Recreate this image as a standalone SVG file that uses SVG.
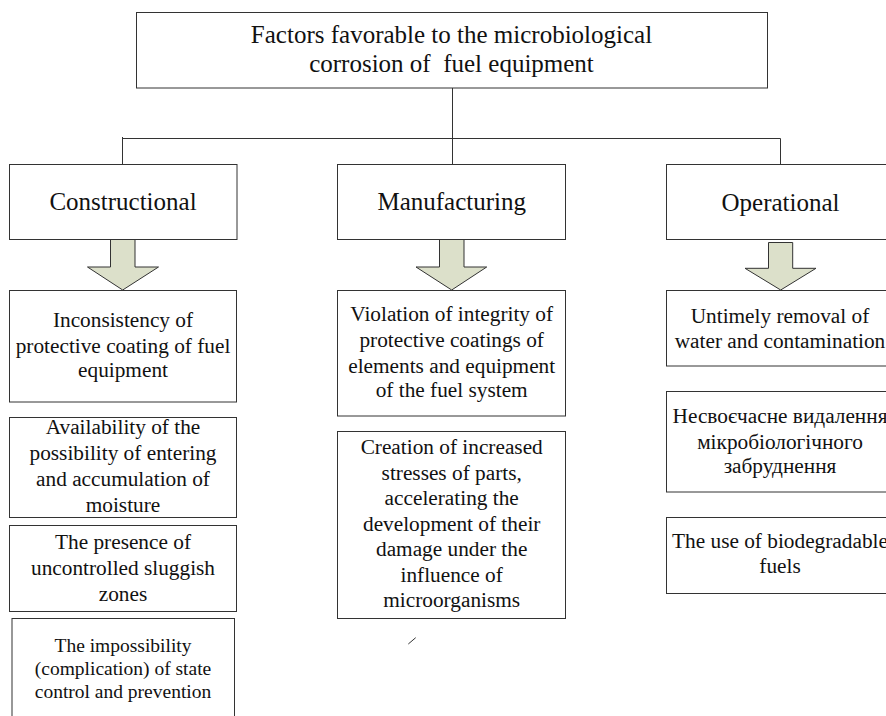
<svg xmlns="http://www.w3.org/2000/svg" width="886" height="716" viewBox="0 0 886 716">
<style>
.box{fill:#fff;stroke:#333;stroke-width:1}
.ln{fill:none;stroke:#333;stroke-width:1}
.arr{fill:#DCE0CA;stroke:#333;stroke-width:1;stroke-linejoin:miter}
text{font-family:'Liberation Serif','DejaVu Serif',serif;fill:#111;text-anchor:middle}
.t25{font-size:25px}
.t21{font-size:21.3px}
.t19{font-size:19.5px}
</style>
<rect width="886" height="716" fill="#fff"/>
<g id="connectors">
<path class="ln" d="M452.5,88 V138.5 M122.5,138.5 H780.5 M122.5,137 V164.5 M452.5,138.5 V164.5 M780.5,138.5 V164.5"/>
<polygon class="arr" points="110.5,239.5 135,239.5 135,267 158.5,267 122.7,290 87.5,267 110.5,267"/>
<polygon class="arr" points="439.5,239.5 464,239.5 464,267 486.7,267 451.7,290 416,267 439.5,267"/>
<polygon class="arr" points="768.5,242.5 792.7,242.5 792.7,268.3 816,268.3 780.7,290 745,268.3 768.5,268.3"/>
<line class="ln" x1="408.3" y1="644" x2="415.7" y2="637.7"/>
</g>
<g id="root">
<rect class="box" x="136.5" y="12.5" width="631" height="75.5"/>
<text class="t25" x="451.5" y="43">Factors favorable to the microbiological</text>
<text class="t25" x="451.5" y="71.5" xml:space="preserve" style="white-space:pre">corrosion of  fuel equipment</text>
</g>
<g id="constructional">
<rect class="box" x="9.5" y="164.5" width="227.5" height="75"/>
<text class="t25" x="123" y="209.5">Constructional</text>
</g>
<g id="manufacturing">
<rect class="box" x="337.5" y="164.5" width="228" height="75"/>
<text class="t25" x="451.7" y="210">Manufacturing</text>
</g>
<g id="operational">
<rect class="box" x="666.5" y="164.5" width="228" height="75"/>
<text class="t25" x="780.5" y="210.5">Operational</text>
</g>
<g id="c1">
<rect class="box" x="9.5" y="290.5" width="227" height="111.5"/>
<text class="t21" x="123" y="327">Inconsistency of</text>
<text class="t21" x="123" y="352.5">protective coating of fuel</text>
<text class="t21" x="123" y="377">equipment</text>
</g>
<g id="c2">
<rect class="box" x="9.5" y="417.5" width="227" height="100"/>
<text class="t21" x="123" y="434">Availability of the</text>
<text class="t21" x="123" y="460">possibility of entering</text>
<text class="t21" x="123" y="486">and accumulation of</text>
<text class="t21" x="123" y="512">moisture</text>
</g>
<g id="c3">
<rect class="box" x="9.5" y="525.5" width="227" height="86"/>
<text class="t21" x="123" y="549">The presence of</text>
<text class="t21" x="123" y="575">uncontrolled sluggish</text>
<text class="t21" x="123" y="601">zones</text>
</g>
<g id="c4">
<rect class="box" x="12" y="618.5" width="222.5" height="110"/>
<text class="t19" x="123" y="652">The impossibility</text>
<text class="t19" x="123" y="675">(complication) of state</text>
<text class="t19" x="123" y="698">control and prevention</text>
</g>
<g id="m1">
<rect class="box" x="337.5" y="290.5" width="228" height="125.5"/>
<text class="t21" x="451.7" y="321">Violation of integrity of</text>
<text class="t21" x="451.7" y="347">protective coatings of</text>
<text class="t21" x="451.7" y="373">elements and equipment</text>
<text class="t21" x="451.7" y="397">of the fuel system</text>
</g>
<g id="m2">
<rect class="box" x="337.5" y="431.5" width="228" height="187"/>
<text class="t21" x="451.7" y="454">Creation of increased</text>
<text class="t21" x="451.7" y="480">stresses of parts,</text>
<text class="t21" x="451.7" y="505">accelerating the</text>
<text class="t21" x="451.7" y="531">development of their</text>
<text class="t21" x="451.7" y="556">damage under the</text>
<text class="t21" x="451.7" y="582">influence of</text>
<text class="t21" x="451.7" y="607">microorganisms</text>
</g>
<g id="o1">
<rect class="box" x="666.5" y="290.5" width="228" height="75.5"/>
<text class="t21" x="780" y="323">Untimely removal of</text>
<text class="t21" x="780" y="347.5">water and contamination</text>
</g>
<g id="o2">
<rect class="box" x="666.5" y="391.5" width="228" height="100.5"/>
<text class="t21" x="780" y="423">Несвоєчасне видалення</text>
<text class="t21" x="780" y="449">мікробіологічного</text>
<text class="t21" x="780" y="473">забруднення</text>
</g>
<g id="o3">
<rect class="box" x="666.5" y="517.5" width="228" height="76"/>
<text class="t21" x="780" y="548">The use of biodegradable</text>
<text class="t21" x="780" y="573">fuels</text>
</g>
</svg>
